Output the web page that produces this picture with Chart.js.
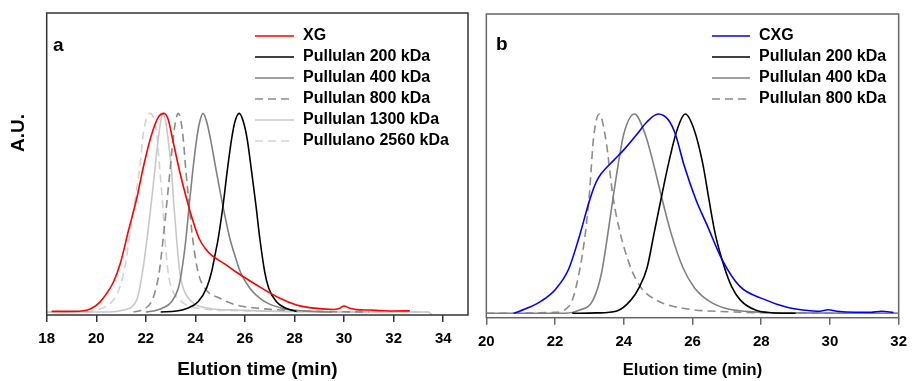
<!DOCTYPE html>
<html>
<head>
<meta charset="utf-8">
<script src="https://cdn.jsdelivr.net/npm/chart.js@4.4.0/dist/chart.umd.min.js"></script>
<style>
    body { margin: 0; background: #fff; }
    #wrap { position: relative; width: 915px; height: 381px; }
    .panel { position: absolute; top: 0; height: 381px; }
</style>
</head>
<body>
<div id="wrap">
    <div class="panel" style="left:0;width:470px"><canvas id="chart_a"></canvas></div>
    <div class="panel" style="left:470px;width:445px"><canvas id="chart_b"></canvas></div>
</div>
<script>
/** Panel a: XG vs pullulan standards **/
const ticks_a = [18, 20, 22, 24, 26, 28, 30, 32, 34]

const xg_time = [18.2, 19.0, 19.5, 19.8, 20.15, 20.4, 20.69, 20.96, 21.3, 21.63, 21.9, 22.2, 22.5, 22.73, 22.9, 23.08, 23.37, 23.71, 23.91, 24.15, 24.4, 24.65, 25.26, 25.66, 26.47, 27.41, 28.08, 28.6, 29.56, 29.8, 30.0, 30.2, 30.5, 31.0, 31.5, 32.0, 32.65]
const xg_au = [0.003, 0.003, 0.006, 0.018, 0.05, 0.09, 0.15, 0.24, 0.41, 0.57, 0.73, 0.88, 0.98, 1.0, 0.97, 0.87, 0.705, 0.54, 0.455, 0.37, 0.32, 0.286, 0.236, 0.2, 0.136, 0.069, 0.035, 0.022, 0.013, 0.018, 0.03, 0.02, 0.012, 0.01, 0.007, 0.005, 0.006]

const p200a_time = [22.6, 23.24, 23.65, 24.11, 24.45, 24.65, 24.79, 24.92, 25.12, 25.28, 25.46, 25.6, 25.77, 25.93, 26.09, 26.27, 26.44, 26.6, 26.8, 26.96, 27.27, 27.68, 28.08]
const p200a_au = [0.0, 0.005, 0.018, 0.052, 0.12, 0.2, 0.286, 0.37, 0.54, 0.705, 0.87, 0.96, 1.0, 0.96, 0.87, 0.705, 0.54, 0.37, 0.2, 0.12, 0.052, 0.018, 0.003]

const p400a_time = [22.0, 22.3, 22.64, 23.04, 23.31, 23.44, 23.62, 23.75, 23.89, 24.05, 24.18, 24.31, 24.45, 24.61, 24.85, 25.1, 25.39, 25.59, 25.82, 26.2, 26.8, 27.54, 28.3, 29.5]
const p400a_au = [0.0, 0.005, 0.018, 0.052, 0.12, 0.2, 0.37, 0.54, 0.705, 0.87, 0.96, 1.0, 0.96, 0.87, 0.705, 0.54, 0.37, 0.286, 0.2, 0.12, 0.052, 0.018, 0.006, 0.0]

const p800a_time = [21.5, 21.83, 22.23, 22.41, 22.54, 22.7, 22.84, 22.97, 23.1, 23.2, 23.31, 23.42, 23.51, 23.62, 23.75, 23.89, 24.11, 24.38, 24.99, 25.66, 26.6, 27.5, 29.0, 31.0]
const p800a_au = [0.0, 0.01, 0.052, 0.12, 0.2, 0.37, 0.54, 0.705, 0.87, 0.96, 1.0, 0.96, 0.87, 0.705, 0.54, 0.37, 0.2, 0.12, 0.069, 0.035, 0.018, 0.01, 0.003, 0.0]

const p1300a_time = [18.0, 20.5, 21.09, 21.63, 21.9, 22.23, 22.5, 22.6, 22.7, 22.8, 22.9, 23.04, 23.13, 23.24, 23.37, 23.51, 23.85, 24.58, 25.66, 27.0, 30.0, 33.4, 33.55]
const p1300a_au = [0.0, 0.0, 0.01, 0.06, 0.23, 0.56, 0.87, 0.96, 1.0, 0.96, 0.87, 0.705, 0.54, 0.37, 0.2, 0.12, 0.052, 0.018, 0.01, 0.004, 0.0, 0.0, -0.015]

const p2560a_time = [18.0, 19.5, 20.02, 20.69, 20.96, 21.16, 21.36, 21.56, 21.76, 21.9, 22.17, 22.44, 22.57, 22.68, 22.77, 22.9, 23.04, 23.44, 24.18, 26.0, 28.0, 33.4]
const p2560a_au = [0.0, 0.0, 0.01, 0.06, 0.13, 0.23, 0.4, 0.56, 0.73, 0.9, 1.0, 0.9, 0.705, 0.54, 0.37, 0.2, 0.12, 0.052, 0.018, 0.006, 0.002, 0.0]

/** Panel b: CXG vs pullulan standards **/
const ticks_b = [20, 22, 24, 26, 28, 30, 32]

const cxg_time = [20.8, 21.25, 21.63, 22.01, 22.39, 22.68, 23.01, 23.2, 23.34, 23.72, 24.0, 24.39, 24.67, 25.0, 25.3, 25.5, 25.76, 26.1, 26.43, 26.86, 27.38, 28.09, 28.75, 29.3, 29.7, 29.95, 30.2, 30.75, 31.2, 31.5, 31.85]
const cxg_au = [0.0, 0.03, 0.065, 0.12, 0.22, 0.37, 0.57, 0.66, 0.7, 0.77, 0.82, 0.9, 0.96, 1.0, 0.97, 0.9, 0.74, 0.57, 0.44, 0.27, 0.135, 0.07, 0.03, 0.015, 0.01, 0.018, 0.01, 0.005, 0.005, 0.01, 0.004]

const p200b_time = [22.5, 23.2, 23.8, 24.2, 24.45, 24.68, 24.88, 25.08, 25.3, 25.55, 25.79, 26.05, 26.3, 26.48, 26.66, 26.93, 27.15, 27.4, 27.85, 28.3, 29.0]
const p200b_au = [0.0, 0.002, 0.012, 0.065, 0.13, 0.23, 0.4, 0.57, 0.75, 0.92, 1.0, 0.92, 0.75, 0.57, 0.4, 0.23, 0.13, 0.065, 0.015, 0.003, 0.0]

const p400b_time = [20.0, 22.3, 22.7, 23.1, 23.35, 23.52, 23.68, 23.85, 24.0, 24.31, 24.62, 24.82, 25.12, 25.38, 25.72, 26.05, 26.45, 26.95, 27.52, 28.5, 32.0]
const p400b_au = [0.0, 0.0, 0.015, 0.065, 0.2, 0.38, 0.57, 0.76, 0.9, 1.0, 0.9, 0.78, 0.57, 0.4, 0.23, 0.13, 0.065, 0.025, 0.01, 0.002, 0.0]

const p800b_time = [20.0, 22.0, 22.3, 22.5, 22.73, 22.88, 23.0, 23.12, 23.29, 23.47, 23.7, 23.9, 24.2, 24.5, 24.96, 25.81, 27.0, 28.5, 32.0]
const p800b_au = [0.0, 0.005, 0.02, 0.065, 0.23, 0.4, 0.6, 0.88, 1.0, 0.88, 0.57, 0.4, 0.23, 0.13, 0.065, 0.023, 0.008, 0.002, 0.0]

const font_family = '"Liberation Sans", Arial, sans-serif'

function pts(time, au) {
    return time.map((t, i) => ({ x: t, y: au[i] }))
}

function curve(label, time, au, color, dash) {
    return {
        label: label,
        data: pts(time, au),
        borderColor: color,
        backgroundColor: color,
        borderWidth: 1.6,
        borderDash: dash || [],
        pointRadius: 0,
        fill: false,
        cubicInterpolationMode: 'monotone',
    }
}

// frame, panel letter, legend and y title drawn over the plot
const panel_decor = {
    id: 'panel_decor',
    afterDatasetsDraw(chart, args, o) {
        const ctx = chart.ctx
        const a = chart.chartArea
        ctx.save()
        ctx.strokeStyle = o.frameColor
        ctx.lineWidth = 1.5
        ctx.strokeRect(a.left, a.top, a.right - a.left, a.bottom - a.top)

        ctx.fillStyle = '#000'
        ctx.textAlign = 'left'
        ctx.textBaseline = 'middle'
        ctx.font = 'bold 19px ' + font_family
        ctx.fillText(o.letter, o.letterX, o.letterY)

        ctx.font = 'bold 16px ' + font_family
        chart.data.datasets.forEach(function (ds, i) {
            const y = o.legendY + i * o.legendGap
            ctx.strokeStyle = ds.borderColor
            ctx.lineWidth = ds.borderWidth
            ctx.setLineDash(ds.borderDash)
            ctx.beginPath()
            ctx.moveTo(o.lineX1, y)
            ctx.lineTo(o.lineX2, y)
            ctx.stroke()
            ctx.setLineDash([])
            ctx.fillText(ds.label, o.textX, y)
        })

        if (o.yTitle) {
            ctx.translate(o.yTitleX, o.yTitleY)
            ctx.rotate(-Math.PI / 2)
            ctx.textAlign = 'center'
            ctx.font = 'bold 19px ' + font_family
            ctx.fillText(o.yTitle, 0, 0)
        }
        ctx.restore()
    }
}

function x_scale(min, max, tick_list, axis_height, color, title_size, title_pad) {
    return {
        type: 'linear',
        min: min,
        max: max,
        afterBuildTicks: function (scale) {
            scale.ticks = tick_list.map(v => ({ value: v }))
        },
        afterFit: function (scale) {
            scale.height = axis_height
        },
        border: { display: false },
        grid: {
            display: true,
            drawOnChartArea: false,
            drawTicks: true,
            tickLength: 7,
            color: color,
            lineWidth: 1.5,
        },
        ticks: {
            padding: 8,
            color: '#000',
            font: { family: font_family, size: 15, weight: 'bold' },
            maxRotation: 0,
        },
        title: {
            display: true,
            text: 'Elution time (min)',
            color: '#000',
            font: { family: font_family, size: title_size, weight: 'bold' },
            padding: { top: 0, bottom: title_pad },
        },
    }
}

new Chart(document.getElementById('chart_a').getContext('2d'), {
    type: 'line',
    data: {
        datasets: [
            curve('XG', xg_time, xg_au, '#ff0000'),
            curve('Pullulan 200 kDa', p200a_time, p200a_au, '#000000'),
            curve('Pullulan 400 kDa', p400a_time, p400a_au, '#808080'),
            curve('Pullulan 800 kDa', p800a_time, p800a_au, '#8c8c8c', [8, 5]),
            curve('Pullulan 1300 kDa', p1300a_time, p1300a_au, '#c8c8c8'),
            curve('Pullulano 2560 kDa', p2560a_time, p2560a_au, '#d2d2d2', [8, 5]),
        ]
    },
    options: {
        responsive: true,
        maintainAspectRatio: false,
        animation: false,
        layout: { padding: { left: 46.7, right: 2, top: 13, bottom: 0 } },
        scales: {
            x: x_scale(18, 35, ticks_a, 66, '#333', 19, 0),
            y: { display: false, min: -0.015, max: 1.505 },
        },
        plugins: {
            legend: { display: false },
            tooltip: { enabled: false },
            panel_decor: {
                frameColor: '#333',
                letter: 'a', letterX: 53, letterY: 46,
                legendY: 36, legendGap: 21, lineX1: 255, lineX2: 294, textX: 303,
                yTitle: 'A.U.', yTitleX: 19, yTitleY: 133,
            },
        },
    },
    plugins: [panel_decor]
});

new Chart(document.getElementById('chart_b').getContext('2d'), {
    type: 'line',
    data: {
        datasets: [
            curve('CXG', cxg_time, cxg_au, '#0000ff'),
            curve('Pullulan 200 kDa', p200b_time, p200b_au, '#000000'),
            curve('Pullulan 400 kDa', p400b_time, p400b_au, '#808080'),
            curve('Pullulan 800 kDa', p800b_time, p800b_au, '#8c8c8c', [8, 5]),
        ]
    },
    options: {
        responsive: true,
        maintainAspectRatio: false,
        animation: false,
        layout: { padding: { left: 12.7, right: 10.7, top: 14, bottom: 0 } },
        scales: {
            x: x_scale(20, 32, ticks_b, 63.3, '#666', 16.5, 1),
            y: { display: false, min: -0.022, max: 1.502 },
        },
        plugins: {
            legend: { display: false },
            tooltip: { enabled: false },
            panel_decor: {
                frameColor: '#666',
                letter: 'b', letterX: 26, letterY: 45,
                legendY: 36, legendGap: 21, lineX1: 242, lineX2: 280, textX: 289,
            },
        },
    },
    plugins: [panel_decor]
});
</script>
</body>
</html>
